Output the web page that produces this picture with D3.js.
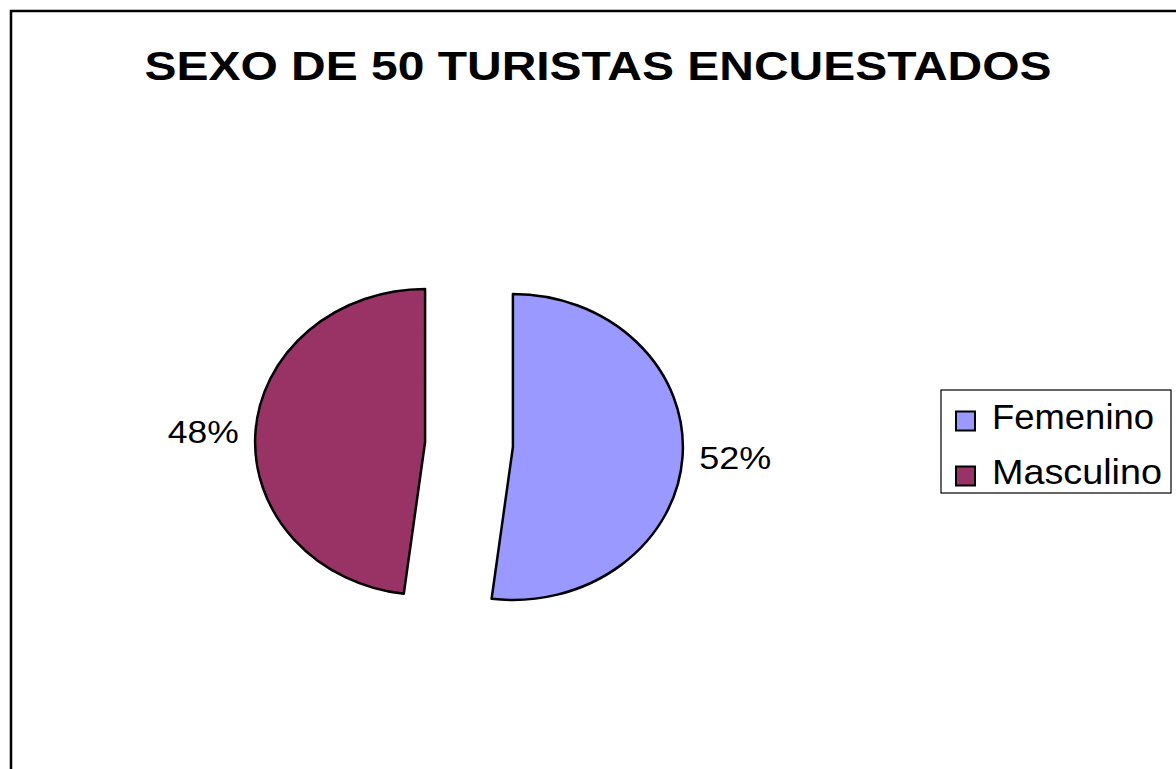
<!DOCTYPE html>
<html>
<head>
<meta charset="utf-8">
<script src="https://cdn.jsdelivr.net/npm/d3@7"></script>
<style>
  html, body { margin: 0; padding: 0; background: #fff; }
  svg { display: block; font-family: "Liberation Sans", Arial, sans-serif; }
</style>
</head>
<body>
<svg id="chart" width="1176" height="769"></svg>
<script>
// data
const title = 'SEXO DE 50 TURISTAS ENCUESTADOS'
const categories = ['Femenino', 'Masculino']
const counts = [26, 24]
const colors = ['#9999FF', '#993366']

const svg = d3.select('#chart')

// chart frame (right and bottom edges run off the page)
svg.append('rect')
  .attr('x', 11).attr('y', 11)
  .attr('width', 1250).attr('height', 850)
  .attr('fill', '#fff')
  .attr('stroke', '#000')
  .attr('stroke-width', 2.5)

svg.append('text')
  .attr('x', 598).attr('y', 80)
  .attr('text-anchor', 'middle')
  .attr('font-size', 41)
  .attr('font-weight', 'bold')
  .attr('textLength', 907)
  .attr('lengthAdjust', 'spacingAndGlyphs')
  .text(title)

// pie, the picture is stretched a bit horizontally
const cx = 469, cy = 444.5
const radius = 153
const sx = 1.111
const explode = 39.6
const total = d3.sum(counts)

const pie = d3.pie().sort(null).value(d => d)
const arc = d3.arc().innerRadius(0).outerRadius(radius)
const arcs = pie(counts)

const slices = svg.append('g')
  .attr('transform', `translate(${cx},${cy}) scale(${sx},1)`)

slices.selectAll('path')
  .data(arcs)
  .enter()
  .append('path')
  .attr('transform', d => {
    let mid = (d.startAngle + d.endAngle) / 2
    return `translate(${Math.sin(mid) * explode},${-Math.cos(mid) * explode})`
  })
  .attr('d', arc)
  .attr('fill', (d, i) => colors[i])
  .attr('stroke', '#000')
  .attr('stroke-width', 2.5)
  .attr('stroke-linejoin', 'round')
  .attr('vector-effect', 'non-scaling-stroke')

// percent labels outside each slice
const labelR = radius + 15
const labelWidth = [72, 71]
arcs.forEach((d, i) => {
  let mid = (d.startAngle + d.endAngle) / 2
  let r = explode + labelR
  let x = cx + Math.sin(mid) * r * sx
  let y = cy - Math.cos(mid) * r
  svg.append('text')
    .attr('x', x).attr('y', y)
    .attr('dy', '0.35em')
    .attr('text-anchor', Math.sin(mid) > 0 ? 'start' : 'end')
    .attr('font-size', 32)
    .attr('textLength', labelWidth[i])
    .attr('lengthAdjust', 'spacingAndGlyphs')
    .text(Math.round(d.value / total * 100) + '%')
})

// legend
const legend = svg.append('g').attr('transform', 'translate(941,390)')
legend.append('rect')
  .attr('width', 230).attr('height', 103)
  .attr('fill', '#fff')
  .attr('stroke', '#000')
  .attr('stroke-width', 1.2)

const legendY = d3.scalePoint().domain(categories).range([31, 86])
const legendTextW = [162, 170]

const items = legend.selectAll('.item')
  .data(categories)
  .enter()
  .append('g')
  .attr('class', 'item')
  .attr('transform', d => `translate(0,${legendY(d)})`)

items.append('rect')
  .attr('x', 15).attr('y', -9.5)
  .attr('width', 19).attr('height', 19)
  .attr('fill', (d, i) => colors[i])
  .attr('stroke', '#000')
  .attr('stroke-width', 2)

items.append('text')
  .attr('x', 51).attr('y', 8)
  .attr('font-size', 35)
  .attr('textLength', (d, i) => legendTextW[i])
  .attr('lengthAdjust', 'spacingAndGlyphs')
  .text(d => d)
</script>
</body>
</html>
